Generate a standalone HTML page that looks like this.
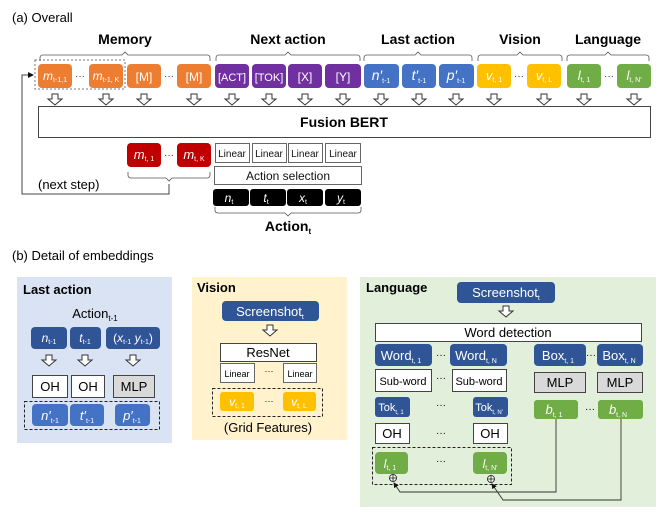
<!DOCTYPE html>
<html><head><meta charset="utf-8"><style>
html,body{margin:0;padding:0;background:#fff}
svg{display:block}
text{font-family:"Liberation Sans","DejaVu Sans",sans-serif}
</style></head><body>
<svg width="664" height="516" viewBox="0 0 664 516" xmlns="http://www.w3.org/2000/svg">
<defs>
<g id="ar"><polygon points="-3,0 3,0 3,5 7,5 0,11 -7,5 -3,5" fill="#fff" stroke="#333" stroke-width="1"/></g>
<marker id="mk" markerWidth="6" markerHeight="6" refX="5" refY="3" orient="auto"><path d="M0,0 L6,3 L0,6z" fill="#111"/></marker>
</defs>
<text x="12" y="22" font-size="13">(a) Overall</text>
<g font-size="14" text-anchor="middle" font-weight="bold">
<text x="125" y="44">Memory</text><text x="288" y="44">Next action</text><text x="418" y="44">Last action</text><text x="520" y="44">Vision</text><text x="608" y="44">Language</text>
</g>
<g fill="none" stroke="#555" stroke-width="0.8">
<path d="M40,61 v-3 q0,-3 3,-3 h79 l3,-3 l3,3 h79 q3,0 3,3 v3"/>
<path d="M216,61 v-3 q0,-3 3,-3 h66 l3,-3 l3,3 h66 q3,0 3,3 v3"/>
<path d="M364,61 v-3 q0,-3 3,-3 h48 l3,-3 l3,3 h48 q3,0 3,3 v3"/>
<path d="M478,61 v-3 q0,-3 3,-3 h36 l3,-3 l3,3 h36 q3,0 3,3 v3"/>
<path d="M567,61 v-3 q0,-3 3,-3 h35 l3,-3 l3,3 h35 q3,0 3,3 v3"/>
<path d="M128,172 v3 q0,3 3,3 h35 l3,3 l3,-3 h35 q3,0 3,-3 v-3"/>
<path d="M215,207 v3 q0,3 3,3 h67 l3,3 l3,-3 h67 q3,0 3,-3 v-3"/>
</g>
<rect x="35" y="60" width="90" height="29" fill="none" stroke="#777" stroke-dasharray="2,2"/>
<g font-size="12" fill="#fff" text-anchor="middle">
<rect x="38" y="64" width="34" height="24" rx="4" fill="#ed7d31"/><text x="55" y="80"><tspan font-style="italic">m</tspan><tspan font-size="7" dy="2">t-1,1</tspan></text>
<rect x="89" y="64" width="34" height="24" rx="4" fill="#ed7d31"/><text x="106" y="80"><tspan font-style="italic">m</tspan><tspan font-size="7" dy="2">t-1, K</tspan></text>
<rect x="127" y="64" width="34" height="24" rx="4" fill="#ed7d31"/><text x="144" y="81">[M]</text>
<rect x="177" y="64" width="34" height="24" rx="4" fill="#ed7d31"/><text x="194" y="81">[M]</text>
<rect x="215" y="64" width="34" height="24" rx="4" fill="#7030a0"/><text x="232" y="81" font-size="11">[ACT]</text>
<rect x="252" y="64" width="34" height="24" rx="4" fill="#7030a0"/><text x="269" y="81" font-size="11">[TOK]</text>
<rect x="288" y="64" width="34" height="24" rx="4" fill="#7030a0"/><text x="305" y="81">[X]</text>
<rect x="325" y="64" width="36" height="24" rx="4" fill="#7030a0"/><text x="343" y="81">[Y]</text>
<rect x="364" y="64" width="35" height="24" rx="4" fill="#4472c4"/><text x="381" y="80"><tspan font-style="italic" font-size="14">n′</tspan><tspan font-size="7" dy="3">t-1</tspan></text>
<rect x="402" y="64" width="34" height="24" rx="4" fill="#4472c4"/><text x="419" y="80"><tspan font-style="italic" font-size="14">t′</tspan><tspan font-size="7" dy="3">t-1</tspan></text>
<rect x="439" y="64" width="35" height="24" rx="4" fill="#4472c4"/><text x="456" y="80"><tspan font-style="italic" font-size="14">p′</tspan><tspan font-size="7" dy="3">t-1</tspan></text>
<rect x="477" y="64" width="34" height="24" rx="4" fill="#ffc000"/><text x="494" y="80"><tspan font-style="italic" font-size="13">v</tspan><tspan font-size="7" dy="2">t, 1</tspan></text>
<rect x="527" y="64" width="34" height="24" rx="4" fill="#ffc000"/><text x="544" y="80"><tspan font-style="italic" font-size="13">v</tspan><tspan font-size="7" dy="2">t, L</tspan></text>
<rect x="567" y="64" width="34" height="24" rx="4" fill="#70ad47"/><text x="584" y="80"><tspan font-style="italic" font-size="13">l</tspan><tspan font-size="7" dy="2">t, 1</tspan></text>
<rect x="617" y="64" width="34" height="24" rx="4" fill="#70ad47"/><text x="634" y="80"><tspan font-style="italic" font-size="13">l</tspan><tspan font-size="7" dy="2">t, N′</tspan></text>
<rect x="127" y="143" width="34" height="24" rx="4" fill="#c00000"/><text x="144" y="159"><tspan font-style="italic" font-size="13">m</tspan><tspan font-size="7" dy="2">t, 1</tspan></text>
<rect x="177" y="143" width="34" height="24" rx="4" fill="#c00000"/><text x="194" y="159"><tspan font-style="italic" font-size="13">m</tspan><tspan font-size="7" dy="2">t, K</tspan></text>
</g>
<g font-size="10" fill="#333" text-anchor="middle">
<text x="80" y="79">···</text><text x="169" y="79">···</text><text x="519" y="79">···</text><text x="609" y="79">···</text><text x="169" y="158">···</text>
</g>
<g>
<use href="#ar" x="55" y="94"/><use href="#ar" x="106" y="94"/><use href="#ar" x="144" y="94"/><use href="#ar" x="194" y="94"/>
<use href="#ar" x="232" y="94"/><use href="#ar" x="269" y="94"/><use href="#ar" x="305" y="94"/><use href="#ar" x="343" y="94"/>
<use href="#ar" x="381" y="94"/><use href="#ar" x="419" y="94"/><use href="#ar" x="456" y="94"/><use href="#ar" x="494" y="94"/>
<use href="#ar" x="544" y="94"/><use href="#ar" x="584" y="94"/><use href="#ar" x="634" y="94"/>
</g>
<rect x="38.5" y="106.5" width="612" height="31" fill="#fff" stroke="#444"/>
<text x="344" y="127" font-size="14" font-weight="bold" text-anchor="middle">Fusion BERT</text>
<g font-size="10" text-anchor="middle" fill="#111">
<rect x="215.5" y="143.5" width="34" height="19" fill="#fff" stroke="#666"/><text x="232" y="157">Linear</text>
<rect x="252.5" y="143.5" width="34" height="19" fill="#fff" stroke="#666"/><text x="269" y="157">Linear</text>
<rect x="288.5" y="143.5" width="34" height="19" fill="#fff" stroke="#666"/><text x="305" y="157">Linear</text>
<rect x="325.5" y="143.5" width="35" height="19" fill="#fff" stroke="#666"/><text x="343" y="157">Linear</text>
<rect x="214.5" y="166.5" width="147" height="18" fill="#fff" stroke="#666"/><text x="288" y="180" font-size="12">Action selection</text>
</g>
<g fill="#fff" font-size="12" text-anchor="middle" font-style="italic">
<rect x="213" y="189" width="36" height="17" rx="3" fill="#000"/><text x="229" y="202">n<tspan font-style="normal" font-size="7" dy="2">t</tspan></text>
<rect x="250" y="189" width="36" height="17" rx="3" fill="#000"/><text x="266" y="202">t<tspan font-style="normal" font-size="7" dy="2">t</tspan></text>
<rect x="287" y="189" width="36" height="17" rx="3" fill="#000"/><text x="303" y="202">x<tspan font-style="normal" font-size="7" dy="2">t</tspan></text>
<rect x="325" y="189" width="36" height="17" rx="3" fill="#000"/><text x="341" y="202">y<tspan font-style="normal" font-size="7" dy="2">t</tspan></text>
</g>
<text x="288" y="231" font-size="14" font-weight="bold" text-anchor="middle">Action<tspan font-size="8" dy="3">t</tspan></text>
<text x="38" y="189" font-size="13">(next step)</text>
<path d="M169,184 V194 H22 V75 H33" fill="none" stroke="#444" stroke-width="1" marker-end="url(#mk)"/>

<text x="12" y="260" font-size="13">(b) Detail of embeddings</text>
<rect x="17" y="277" width="155" height="166" fill="#dae3f3"/>
<rect x="192" y="277" width="155" height="163" fill="#fff2cc"/>
<rect x="360" y="277" width="296" height="230" fill="#e2efda"/>
<g font-size="13" font-weight="bold"><text x="23" y="294">Last action</text><text x="197" y="292">Vision</text><text x="366" y="292">Language</text></g>

<text x="95" y="318" font-size="13" text-anchor="middle">Action<tspan font-size="8" dy="3">t-1</tspan></text>
<g fill="#fff" font-size="12" text-anchor="middle" font-style="italic">
<rect x="31" y="327" width="36" height="22" rx="4" fill="#2f5597"/><text x="49" y="342">n<tspan font-style="normal" font-size="7" dy="2">t-1</tspan></text>
<rect x="70" y="327" width="31" height="22" rx="4" fill="#2f5597"/><text x="85" y="342">t<tspan font-style="normal" font-size="7" dy="2">t-1</tspan></text>
<rect x="106" y="327" width="54" height="22" rx="4" fill="#2f5597"/><text x="133" y="342"><tspan font-style="normal">(</tspan>x<tspan font-style="normal" font-size="7" dy="2">t-1</tspan><tspan dy="-2"> y</tspan><tspan font-style="normal" font-size="7" dy="2">t-1</tspan><tspan font-style="normal" dy="-2">)</tspan></text>
</g>
<use href="#ar" x="49" y="355"/><use href="#ar" x="85" y="355"/><use href="#ar" x="133" y="355"/>
<g font-size="13" text-anchor="middle">
<rect x="32.5" y="375.5" width="35" height="22" fill="#fff" stroke="#444"/><text x="50" y="391">OH</text>
<rect x="71.5" y="375.5" width="33" height="22" fill="#fff" stroke="#444"/><text x="88" y="391">OH</text>
<rect x="113.5" y="375.5" width="41" height="22" fill="#d9d9d9" stroke="#444"/><text x="134" y="391">MLP</text>
</g>
<rect x="24.5" y="401.5" width="135" height="28" fill="none" stroke="#222" stroke-dasharray="3,2"/>
<g fill="#fff" font-size="11" text-anchor="middle">
<rect x="32" y="404" width="36" height="22" rx="4" fill="#4472c4"/><text x="50" y="420"><tspan font-style="italic" font-size="13">n′</tspan><tspan font-size="7" dy="3">t-1</tspan></text>
<rect x="70" y="404" width="34" height="22" rx="4" fill="#4472c4"/><text x="87" y="420"><tspan font-style="italic" font-size="13">t′</tspan><tspan font-size="7" dy="3">t-1</tspan></text>
<rect x="115" y="404" width="35" height="22" rx="4" fill="#4472c4"/><text x="132" y="420"><tspan font-style="italic" font-size="13">p′</tspan><tspan font-size="7" dy="3">t-1</tspan></text>
</g>

<rect x="222" y="301" width="97" height="20" rx="4" fill="#2f5597"/>
<text x="270" y="316" font-size="13" fill="#fff" text-anchor="middle">Screenshot<tspan font-size="7" dy="3">t</tspan></text>
<use href="#ar" x="270" y="325"/>
<rect x="220.5" y="343.5" width="96" height="18" fill="#fff" stroke="#444"/><text x="268" y="357" font-size="13" text-anchor="middle">ResNet</text>
<g font-size="9" text-anchor="middle">
<rect x="220.5" y="363.5" width="34" height="19" fill="#fff" stroke="#666"/><text x="237" y="377">Linear</text>
<rect x="283.5" y="363.5" width="33" height="19" fill="#fff" stroke="#666"/><text x="300" y="377">Linear</text>
<text x="269" y="374">···</text>
</g>
<rect x="212.5" y="388.5" width="110" height="28" fill="none" stroke="#222" stroke-dasharray="3,2"/>
<rect x="220" y="392" width="34" height="19" rx="3" fill="#ffc000"/><text x="237" y="406" font-size="12" fill="#fff" text-anchor="middle"><tspan font-style="italic">v</tspan><tspan font-size="7" dy="2">t, 1</tspan></text>
<rect x="283" y="392" width="33" height="19" rx="3" fill="#ffc000"/><text x="299" y="406" font-size="12" fill="#fff" text-anchor="middle"><tspan font-style="italic">v</tspan><tspan font-size="7" dy="2">t, L</tspan></text>
<text x="269" y="404" font-size="9" text-anchor="middle">···</text>
<text x="268" y="432" font-size="13" text-anchor="middle">(Grid Features)</text>

<rect x="457" y="282" width="98" height="21" rx="4" fill="#2f5597"/>
<text x="506" y="297" font-size="13" fill="#fff" text-anchor="middle">Screenshot<tspan font-size="7" dy="3">t</tspan></text>
<use href="#ar" x="506" y="306"/>
<rect x="375.5" y="323.5" width="266" height="18" fill="#fff" stroke="#444"/><text x="508" y="337" font-size="13" text-anchor="middle">Word detection</text>
<g fill="#fff" font-size="13" text-anchor="middle">
<rect x="375" y="344" width="57" height="22" rx="4" fill="#2f5597"/><text x="401" y="360">Word<tspan font-size="7" dy="3">t, 1</tspan></text>
<rect x="450" y="344" width="57" height="22" rx="4" fill="#2f5597"/><text x="476" y="360">Word<tspan font-size="7" dy="3">t, N</tspan></text>
<rect x="534" y="344" width="52" height="22" rx="4" fill="#2f5597"/><text x="558" y="360">Box<tspan font-size="7" dy="3">t, 1</tspan></text>
<rect x="597" y="344" width="46" height="22" rx="4" fill="#2f5597"/><text x="619" y="360">Box<tspan font-size="7" dy="3">t, N</tspan></text>
<rect x="375" y="397" width="35" height="20" rx="3" fill="#2f5597"/><text x="391" y="411" font-size="11">Tok<tspan font-size="6" dy="3">t, 1</tspan></text>
<rect x="473" y="397" width="35" height="20" rx="3" fill="#2f5597"/><text x="489" y="411" font-size="11">Tok<tspan font-size="6" dy="3">t, N′</tspan></text>
<rect x="534" y="400" width="44" height="19" rx="3" fill="#70ad47"/><text x="554" y="414"><tspan font-style="italic">b</tspan><tspan font-size="7" dy="3">t, 1</tspan></text>
<rect x="598" y="400" width="45" height="19" rx="3" fill="#70ad47"/><text x="618" y="414"><tspan font-style="italic">b</tspan><tspan font-size="7" dy="3">t, N</tspan></text>
</g>
<g font-size="10" text-anchor="middle">
<text x="441" y="358">···</text><text x="591" y="358">···</text><text x="441" y="381">···</text><text x="441" y="408">···</text><text x="590" y="412">···</text><text x="441" y="436">···</text><text x="441" y="464">···</text>
<rect x="375.5" y="369.5" width="56" height="22" fill="#fff" stroke="#444"/><text x="403" y="385" font-size="11">Sub-word</text>
<rect x="452.5" y="369.5" width="54" height="22" fill="#fff" stroke="#444"/><text x="479" y="385" font-size="11">Sub-word</text>
<rect x="534.5" y="372.5" width="51" height="20" fill="#d9d9d9" stroke="#444"/><text x="560" y="387" font-size="13">MLP</text>
<rect x="597.5" y="372.5" width="45" height="20" fill="#d9d9d9" stroke="#444"/><text x="620" y="387" font-size="13">MLP</text>
<rect x="375.5" y="423.5" width="34" height="20" fill="#fff" stroke="#444"/><text x="392" y="438" font-size="13">OH</text>
<rect x="473.5" y="423.5" width="34" height="20" fill="#fff" stroke="#444"/><text x="490" y="438" font-size="13">OH</text>
</g>
<rect x="372.5" y="447.5" width="139" height="37" fill="none" stroke="#222" stroke-dasharray="3,2"/>
<rect x="375" y="452" width="33" height="22" rx="4" fill="#70ad47"/><text x="390" y="468" font-size="12" fill="#fff" text-anchor="middle"><tspan font-style="italic">l</tspan><tspan font-size="7" dy="2">t, 1</tspan></text>
<rect x="473" y="452" width="34" height="22" rx="4" fill="#70ad47"/><text x="490" y="468" font-size="12" fill="#fff" text-anchor="middle"><tspan font-style="italic">l</tspan><tspan font-size="7" dy="2">t, N′</tspan></text>
<g fill="#fff" stroke="#111" stroke-width="0.8">
<circle cx="393" cy="478" r="3.5"/><path d="M389.5,478 h7 M393,474.5 v7"/>
<circle cx="491" cy="479" r="3.5"/><path d="M487.5,479 h7 M491,475.5 v7"/>
</g>
<g fill="none" stroke="#333" stroke-width="0.9">
<path d="M556,419 V492 H400 L394,483" marker-end="url(#mk)"/>
<path d="M621,419 V500 H503 L492,484" marker-end="url(#mk)"/>
</g>
</svg>
</body></html>
